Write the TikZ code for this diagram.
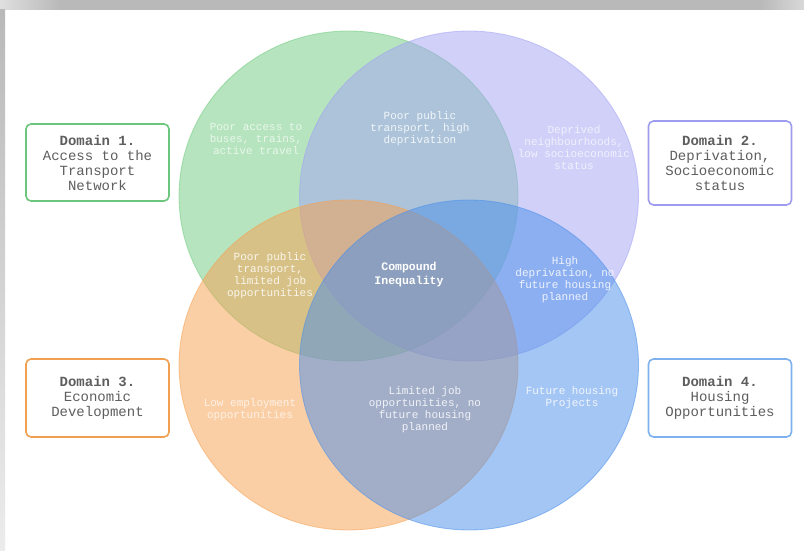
\documentclass[tikz,border=0pt]{standalone}
\usepackage{fontspec}
\setmonofont{Liberation Mono}
\usetikzlibrary{positioning,shapes.geometric}
\definecolor{VennGreen}{HTML}{6FCB7F}
\definecolor{VennPurple}{HTML}{A3A3F5}
\definecolor{VennOrange}{HTML}{F8A04F}
\definecolor{VennBlue}{HTML}{4A8FEA}
\definecolor{BoxGreen}{HTML}{6CC77C}
\definecolor{BoxPurple}{HTML}{9D9CEF}
\definecolor{BoxOrange}{HTML}{F0A050}
\definecolor{BoxBlue}{HTML}{7EB2EE}
\definecolor{TextGray}{HTML}{5E5E5E}

\begin{document}
\begin{tikzpicture}[
    x=1pt, y=-1pt,
    font=\ttfamily,
    venn/.style={ellipse, inner sep=0pt, minimum width=339pt, minimum height=330pt, fill=#1, fill opacity=0.5, draw=#1, draw opacity=0.55, line width=0.8pt},
    domain/.style={draw=#1, rounded corners=5pt, fill=white, line width=1.6pt, minimum width=143pt, align=center, text=TextGray, font=\ttfamily\fontsize{14}{15}\selectfont},
    lbl/.style={text=white, text opacity=#1, align=center, font=\ttfamily\fontsize{11}{12}\selectfont},
    lbl/.default=0.85
]

  % Fond et ombre
  \useasboundingbox (0,0) rectangle (804,551);
  \fill[white] (0,0) rectangle (804,551);
  \shade[left color=gray!25, right color=gray!55] (0,0) rectangle (60,10);
  \fill[gray!55] (60,0) rectangle (760,10);
  \shade[left color=gray!55, right color=gray!30] (760,0) rectangle (804,10);
  \shade[top color=gray!55, bottom color=gray!15] (0,10) rectangle (5,551);

  % =========================================================================
  % CERCLES
  % =========================================================================
  \node[venn=VennGreen] (c_transport) at (348.5,196) {};
  \node[venn=VennPurple] (c_depriv) at (469,196) {};
  \node[venn=VennOrange] (c_econ) at (348.5,365) {};
  \node[venn=VennBlue] (c_housing) at (469,365) {};

  % Textes des zones
  \node[lbl=0.7] (t_transport) at (256,139) {Poor access to\\buses, trains,\\active travel};
  \node[lbl] (t_td) at (420,129) {Poor public\\transport, high\\deprivation};
  \node[lbl=0.7] (t_depriv) at (574,148) {Deprived\\neighbourhoods,\\low socioeconomic\\status};
  \node[lbl] (t_te) at (270,276) {Poor public\\transport,\\limited job\\opportunities};
  \node[lbl=1, font=\ttfamily\bfseries\fontsize{11.5}{14}\selectfont] (t_center) at (409,275) {Compound\\Inequality};
  \node[lbl] (t_dh) at (565,280) {High\\deprivation, no\\future housing\\planned};
  \node[lbl=0.7] (t_econ) at (250,410) {Low employment\\opportunities};
  \node[lbl] (t_eh) at (425,410) {Limited job\\opportunities, no\\future housing\\planned};
  \node[lbl] (t_housing) at (572,398) {Future housing\\Projects};

  % =========================================================================
  % DOMAINES
  % =========================================================================
  \node[domain=BoxGreen, minimum height=77pt] (d_transport) at (97.5,162.5) {\textbf{Domain 1.}\\Access to the\\Transport\\Network};
  \node[domain=BoxPurple, minimum height=84pt] (d_depriv) at (720,163) {\textbf{Domain 2.}\\Deprivation,\\Socioeconomic\\status};
  \node[domain=BoxOrange, minimum height=78pt] (d_econ) at (97.5,398) {\textbf{Domain 3.}\\Economic\\Development};
  \node[domain=BoxBlue, minimum height=78pt] (d_housing) at (720,398) {\textbf{Domain 4.}\\Housing\\Opportunities};

\end{tikzpicture}
\end{document}
